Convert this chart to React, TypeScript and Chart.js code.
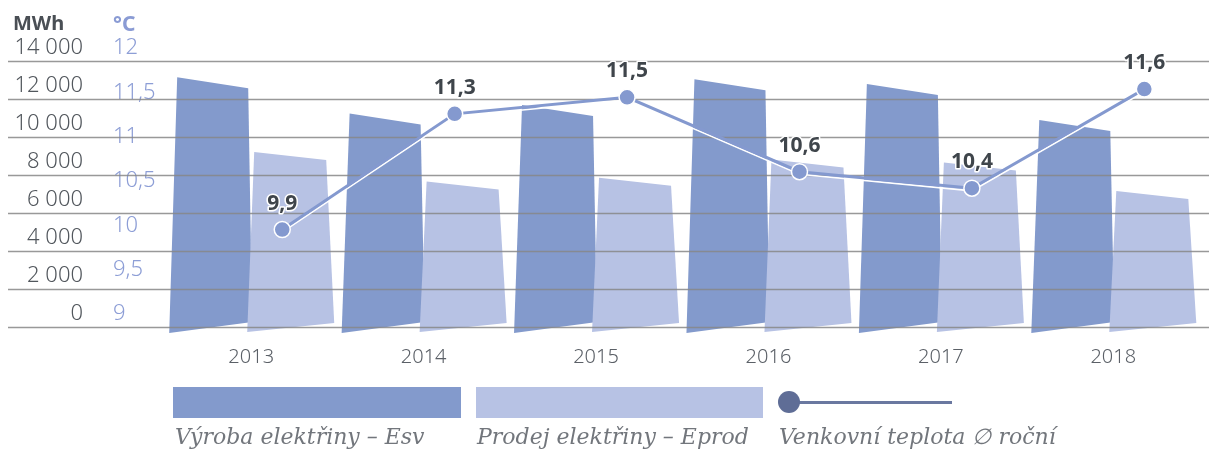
import React, { useEffect, useRef } from "react";
import { Chart, registerables } from "chart.js";

Chart.register(...registerables);

// ---- data ----
const years = ["2013", "2014", "2015", "2016", "2017", "2018"];
const productionMWh = [12850, 10950, 11400, 12750, 12500, 10600];
const salesMWh = [9000, 7450, 7650, 8600, 8450, 6950];
const temperatureC = [9.9, 11.3, 11.5, 10.6, 10.4, 11.6];
const mwhTicks = [0, 2000, 4000, 6000, 8000, 10000, 12000, 14000];
const celsiusTicks = [9, 9.5, 10, 10.5, 11, 11.5, 12];
const legendLabels = ["Výroba elektřiny – Esv", "Prodej elektřiny – Eprod", "Venkovní teplota ∅ roční"];

const DARK = "#839acc";
const LIGHT = "#b7c2e4";
const LINE = "#8499cf";
const FONT = "'Noto Sans', 'Open Sans', sans-serif";

const fmtMWh = (v: number) => String(v).replace(/\B(?=(\d{3})+(?!\d))/g, " ");
const fmtC = (v: number) => String(v).replace(".", ",");

function drawBars(chart: any, idx: number) {
  const ds = chart.data.datasets[idx];
  const meta = chart.getDatasetMeta(idx);
  const ctx = chart.ctx;
  ctx.save();
  ctx.fillStyle = ds.backgroundColor;
  meta.data.forEach((el: any) => {
    const { x, y, base, width } = el.getProps(["x", "y", "base", "width"], true);
    const x0 = x - width / 2;
    const x1 = x + width / 2;
    ctx.beginPath();
    if (ds.shapeKind === "dark") {
      ctx.moveTo(x0 - 2, base + 6);
      ctx.lineTo(x0 + 6, y - 5.5);
      ctx.lineTo(x1 - 3, y + 5.5);
      ctx.lineTo(x1 + 1, base - 5);
    } else {
      ctx.moveTo(x0 - 4, base + 5);
      ctx.lineTo(x0 + 3, y - 4);
      ctx.lineTo(x1 - 5, y + 4);
      ctx.lineTo(x1 + 3, base - 4);
    }
    ctx.closePath();
    ctx.fill();
  });
  ctx.restore();
}

function drawGrid(chart: any) {
  const ctx = chart.ctx;
  const ys = chart.scales.y;
  ctx.save();
  ctx.strokeStyle = "rgba(135,135,135,0.85)";
  ctx.lineWidth = 1.3;
  mwhTicks.forEach((v) => {
    const py = Math.round(ys.getPixelForValue(v)) + 0.5;
    ctx.beginPath();
    ctx.moveTo(8, py);
    ctx.lineTo(chart.width, py);
    ctx.stroke();
  });
  ctx.restore();
}

const customDraw = {
  id: "customDraw",
  beforeDatasetDraw(chart: any, args: any) {
    const ds = chart.data.datasets[args.index];
    const ctx = chart.ctx;
    if (ds.shapeKind === "light") return false;
    if (ds.shapeKind === "dark") {
      // dark bars first, light bars over them, then the grid lines on top
      const darkIdx = chart.data.datasets.findIndex((d: any) => d.shapeKind === "dark");
      const lightIdx = chart.data.datasets.findIndex((d: any) => d.shapeKind === "light");
      drawBars(chart, darkIdx);
      drawBars(chart, lightIdx);
      drawGrid(chart);
      return false;
    }
    if (ds.type === "line") {
      const pts = args.meta.data;
      ctx.save();
      ctx.strokeStyle = "#ffffff";
      ctx.lineWidth = 1.6;
      ctx.beginPath();
      pts.forEach((p: any, i: number) => {
        if (i === 0) ctx.moveTo(p.x, p.y + 2.6);
        else ctx.lineTo(p.x, p.y + 2.6);
      });
      ctx.stroke();
      ctx.restore();
    }
    return true;
  },
  afterDatasetsDraw(chart: any) {
    const idx = chart.data.datasets.findIndex((d: any) => d.type === "line");
    const meta = chart.getDatasetMeta(idx);
    const ctx = chart.ctx;
    ctx.save();
    ctx.font = `bold 21px ${FONT}`;
    ctx.textAlign = "center";
    ctx.textBaseline = "middle";
    ctx.lineJoin = "round";
    meta.data.forEach((p: any, i: number) => {
      const t = fmtC(temperatureC[i]);
      ctx.strokeStyle = "#ffffff";
      ctx.lineWidth = 3;
      ctx.strokeText(t, p.x, p.y - 26);
      ctx.fillStyle = "#3f454b";
      ctx.fillText(t, p.x, p.y - 26);
    });
    ctx.restore();
  },
};

export default function App() {
  const ref = useRef<HTMLCanvasElement | null>(null);

  useEffect(() => {
    if (!ref.current) return;
    const chart = new Chart(ref.current, {
      type: "bar",
      data: {
        labels: years,
        datasets: [
          {
            type: "line",
            label: legendLabels[2],
            data: temperatureC.map((v, i) => ({ x: i + 0.18, y: v })),
            xAxisID: "xT",
            yAxisID: "yL",
            borderColor: LINE,
            borderWidth: 3,
            pointRadius: 8,
            pointBackgroundColor: LINE,
            pointBorderColor: "#ffffff",
            pointBorderWidth: 1.5,
            tension: 0,
            order: 0,
            clip: false,
          } as any,
          {
            type: "bar",
            label: legendLabels[0],
            data: productionMWh,
            backgroundColor: DARK,
            yAxisID: "y",
            xAxisID: "x",
            order: 1,
            barThickness: 80,
            shapeKind: "dark",
          } as any,
          {
            type: "bar",
            label: legendLabels[1],
            data: salesMWh,
            backgroundColor: LIGHT,
            yAxisID: "y",
            xAxisID: "x",
            order: 2,
            barThickness: 80,
            shapeKind: "light",
          } as any,
        ],
      },
      options: {
        responsive: false,
        animation: false,
        layout: { padding: { left: 8, top: 61, right: 0, bottom: 83 } },
        plugins: { legend: { display: false }, tooltip: { enabled: false } },
        scales: {
          x: {
            type: "category",
            offset: true,
            grid: { display: false },
            border: { display: false },
            ticks: { color: "#5b6067", font: { family: FONT, size: 20, weight: 300 as any }, padding: 10 },
            afterFit: (a: any) => { a.height = 40; },
          },
          xT: { type: "linear", display: false, offset: false, min: -0.5, max: 5.5 },
          y: {
            type: "linear",
            position: "left",
            weight: 1,
            min: 0,
            max: 14000,
            grid: { display: false },
            border: { display: false },
            afterBuildTicks: (a: any) => { a.ticks = mwhTicks.map((v) => ({ value: v })); },
            ticks: {
              callback: (v: any) => fmtMWh(Number(v)),
              color: "#52575d",
              font: { family: FONT, size: 22, weight: 300 as any },
              padding: 22,
              labelOffset: -13,
              crossAlign: "near",
            },
            afterFit: (a: any) => { a.width = 105; },
          },
          yT: {
            type: "linear",
            position: "left",
            weight: 0,
            min: 9,
            max: 12,
            grid: { display: false },
            border: { display: false },
            afterBuildTicks: (a: any) => { a.ticks = celsiusTicks.map((v) => ({ value: v })); },
            ticks: {
              callback: (v: any) => fmtC(Number(v)),
              color: "#8d9ed6",
              font: { family: FONT, size: 22, weight: 300 as any },
              padding: 0,
              labelOffset: -13,
              crossAlign: "far",
            },
            afterFit: (a: any) => { a.width = 52; },
          },
          yL: { type: "linear", display: false, min: 8.72, max: 11.94 },
        },
      },
      plugins: [customDraw],
    });
    return () => chart.destroy();
  }, []);

  const legendText: React.CSSProperties = {
    position: "absolute",
    top: 424,
    fontFamily: "'DejaVu Serif', 'Liberation Serif', serif",
    fontStyle: "italic",
    fontSize: 22,
    lineHeight: "26px",
    color: "#72767c",
    whiteSpace: "nowrap",
  };

  return (
    <div style={{ position: "fixed", left: 0, top: 0, width: 1209, height: 450, background: "#fff", overflow: "hidden" }}>
      <canvas ref={ref} width={1209} height={450} style={{ position: "absolute", left: 0, top: 0 }} />
      <div style={{ position: "absolute", left: 13, top: 13, fontFamily: FONT, fontWeight: 700, fontSize: 20, lineHeight: "20px", color: "#4a4f55" }}>MWh</div>
      <div style={{ position: "absolute", left: 113, top: 13, fontFamily: FONT, fontWeight: 700, fontSize: 21, lineHeight: "20px", color: "#8a9bd4" }}>°C</div>
      <div style={{ position: "absolute", left: 173, top: 387, width: 288, height: 31, background: DARK }} />
      <div style={{ position: "absolute", left: 476, top: 387, width: 287, height: 31, background: LIGHT }} />
      <div style={{ position: "absolute", left: 790, top: 401, width: 162, height: 3, background: "#6a78a0" }} />
      <div style={{ position: "absolute", left: 778, top: 391, width: 22, height: 22, borderRadius: "50%", background: "#5f6d96" }} />
      <div style={{ ...legendText, left: 175 }}>{legendLabels[0]}</div>
      <div style={{ ...legendText, left: 477 }}>{legendLabels[1]}</div>
      <div style={{ ...legendText, left: 779 }}>{legendLabels[2]}</div>
    </div>
  );
}
